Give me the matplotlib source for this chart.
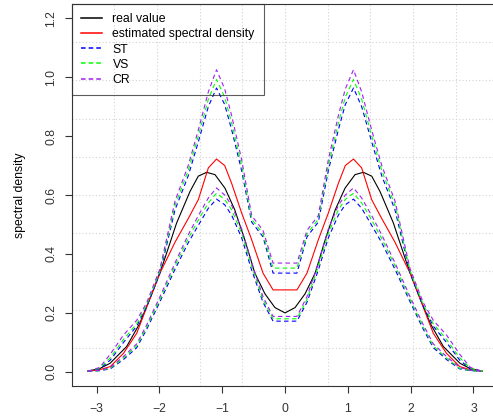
import matplotlib
matplotlib.use('Agg')
import matplotlib.pyplot as plt
from matplotlib.lines import Line2D
import numpy as np

plt.rcParams['font.family'] = ['Liberation Sans', 'DejaVu Sans']

# half curves (x >= 0), spectral densities are symmetric
freq_est = [0, 0.19, 0.35, 0.53, 0.69, 0.85, 0.96, 1.09, 1.22, 1.38, 1.54, 1.75, 1.99, 2.20, 2.36, 2.57, 2.78, 2.95, 3.14]
est = [0.278, 0.278, 0.335, 0.448, 0.539, 0.640, 0.700, 0.722, 0.692, 0.584, 0.520, 0.440, 0.335, 0.220, 0.131, 0.063, 0.018, 0.007, 0.002]

st_up = [0.335, 0.335, 0.458, 0.508, 0.683, 0.822, 0.907, 0.963, 0.900, 0.780, 0.665, 0.550, 0.335, 0.222, 0.155, 0.100, 0.040, 0.010, 0.002]
vs_up = [0.352, 0.352, 0.468, 0.518, 0.700, 0.845, 0.932, 0.992, 0.925, 0.800, 0.683, 0.565, 0.342, 0.228, 0.163, 0.110, 0.048, 0.012, 0.002]
cr_up = [0.369, 0.369, 0.480, 0.530, 0.720, 0.870, 0.960, 1.025, 0.950, 0.820, 0.700, 0.580, 0.350, 0.235, 0.175, 0.125, 0.060, 0.015, 0.002]

st_lo = [0.172, 0.172, 0.236, 0.345, 0.455, 0.532, 0.567, 0.586, 0.555, 0.497, 0.438, 0.348, 0.238, 0.145, 0.082, 0.042, 0.010, 0.004, 0.002]
vs_lo = [0.180, 0.180, 0.245, 0.358, 0.470, 0.550, 0.585, 0.606, 0.573, 0.515, 0.452, 0.360, 0.246, 0.152, 0.088, 0.047, 0.012, 0.004, 0.002]
cr_lo = [0.188, 0.188, 0.255, 0.370, 0.485, 0.565, 0.600, 0.624, 0.590, 0.530, 0.465, 0.370, 0.255, 0.160, 0.095, 0.052, 0.015, 0.005, 0.002]

freq_true = [0, 0.16, 0.32, 0.48, 0.64, 0.80, 0.955, 1.114, 1.247, 1.38, 1.512, 1.725, 1.937, 2.096, 2.31, 2.52, 2.785, 2.94, 3.14]
true_val = [0.200, 0.218, 0.265, 0.335, 0.448, 0.550, 0.623, 0.669, 0.677, 0.664, 0.612, 0.505, 0.369, 0.278, 0.165, 0.086, 0.029, 0.012, 0.002]

labels = ['real value', 'estimated spectral density', 'ST', 'VS', 'CR']
colors = ['black', 'red', 'blue', '#00ff00', '#a020f0']


def mirror_x(x):
    x = np.array(x)
    return np.concatenate([-x[::-1][:-1], x])


def mirror_y(y):
    y = np.array(y)
    return np.concatenate([y[::-1][:-1], y])


fig = plt.figure(figsize=(4.93, 4.19), dpi=100)
ax = fig.add_axes([71.5 / 493, 33 / 419, 427 / 493, 382 / 419])

xlim = (-3.398, 3.398)
ylim = (-0.048, 1.248)
ax.set_xlim(xlim)
ax.set_ylim(ylim)

# grid(10, 10) style: dotted light gray at tenths of the plot region
for i in range(1, 10):
    ax.axvline(xlim[0] + i * (xlim[1] - xlim[0]) / 10, color='#d3d3d3', lw=0.8, ls=(0, (1, 2)), zorder=0)
    ax.axhline(ylim[0] + i * (ylim[1] - ylim[0]) / 10, color='#d3d3d3', lw=0.8, ls=(0, (1, 2)), zorder=0)

lw = 0.8
dash = (0, (4, 3))
xe = mirror_x(freq_est)
ax.plot(mirror_x(freq_true), mirror_y(true_val), color=colors[0], lw=lw)
ax.plot(xe, mirror_y(est), color=colors[1], lw=lw)
for up, lo, c in [(st_up, st_lo, colors[2]), (vs_up, vs_lo, colors[3]), (cr_up, cr_lo, colors[4])]:
    ax.plot(xe, mirror_y(up), color=c, lw=lw, ls=dash)
    ax.plot(xe, mirror_y(lo), color=c, lw=lw, ls=dash)

ax.set_xticks([-3, -2, -1, 0, 1, 2, 3])
ax.set_yticks([0.0, 0.2, 0.4, 0.6, 0.8, 1.0, 1.2])
ax.set_yticklabels(['0.0', '0.2', '0.4', '0.6', '0.8', '1.0', '1.2'], rotation=90, va='center')
ax.tick_params(direction='out', length=5, width=0.8, labelsize=8.8, pad=7, colors='#333333')
ax.tick_params(axis='y', pad=5)
for s in ax.spines.values():
    s.set_linewidth(0.8)
    s.set_color('#333333')

ax.set_ylabel('spectral density', fontsize=8.8, labelpad=14)

hlw = 1.1
handles = [Line2D([], [], color=colors[0], lw=hlw),
           Line2D([], [], color=colors[1], lw=hlw)]
for c in colors[2:]:
    handles.append(Line2D([], [], color=c, lw=hlw, ls=(0, (3, 2))))
leg = ax.legend(handles, labels, loc='upper left', bbox_to_anchor=(0, 1), borderaxespad=0, fontsize=8.8,
                frameon=True, fancybox=False, edgecolor='#333333', facecolor='none',
                handlelength=1.75, handletextpad=0.85, labelspacing=0.26, borderpad=0.75)
leg.get_frame().set_linewidth(0.8)

fig.savefig('out.png', dpi=100)
